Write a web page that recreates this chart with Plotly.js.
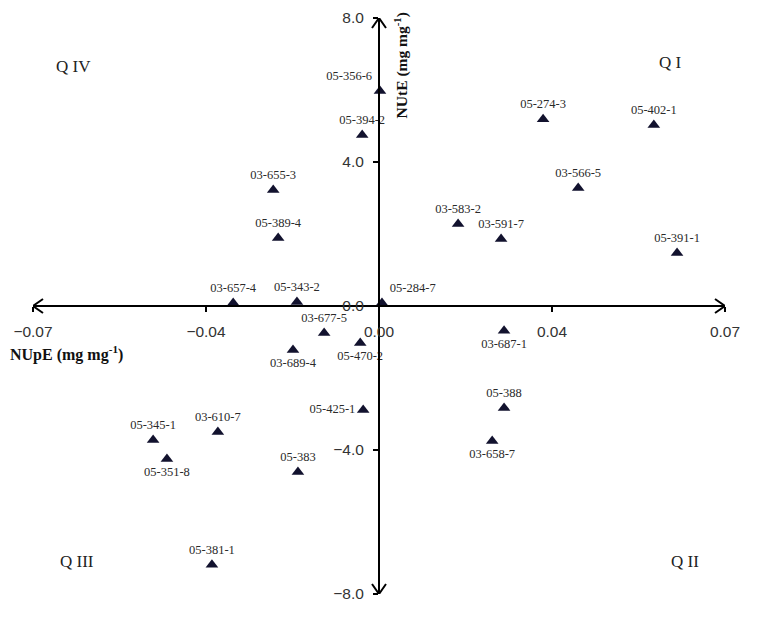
<!DOCTYPE html>
<html>
<head>
<meta charset="utf-8">
<script src="https://cdn.plot.ly/plotly-3.0.1.min.js"></script>
<style>
  html, body { margin: 0; padding: 0; background: #ffffff; }
  #chart { width: 760px; height: 629px; }
</style>
</head>
<body>
<div id="chart"></div>
<script>
// ---- data ----
const genotypes = [
  "05-356-6", "05-394-2", "05-274-3", "05-402-1", "03-566-5",
  "03-583-2", "03-591-7", "05-391-1", "03-655-3", "05-389-4",
  "03-657-4", "05-343-2", "05-284-7", "03-677-5", "03-689-4",
  "05-470-2", "03-687-1", "05-388", "03-658-7", "05-425-1",
  "05-345-1", "03-610-7", "05-351-8", "05-383", "05-381-1"
];
const nupe = [
  0.0002, -0.0034, 0.0332, 0.0556, 0.0403,
  0.0160, 0.0247, 0.0603, -0.0214, -0.0204,
  -0.0295, -0.0166, 0.0006, -0.0111, -0.0174,
  -0.0038, 0.0253, 0.0253, 0.0229, -0.0032,
  -0.0457, -0.0326, -0.0429, -0.0164, -0.0338
];
const nute = [
  5.97, 4.75, 5.19, 5.03, 3.28,
  2.28, 1.86, 1.47, 3.22, 1.89,
  0.08, 0.11, 0.08, -0.75, -1.22,
  -1.03, -0.69, -2.83, -3.75, -2.89,
  -3.72, -3.50, -4.25, -4.61, -7.19
];
const xTickVals = [-0.07, -0.035, 0, 0.035, 0.07];
const yTickVals = [-8, -4, 0, 4, 8];
const quadrants = ["Q I", "Q II", "Q III", "Q IV"];

// ---- styling ----
const labelPlacement = {
  "05-356-6": "top left",
  "05-284-7": "top right",
  "05-425-1": "middle left",
  "03-689-4": "bottom center",
  "05-470-2": "bottom center",
  "03-687-1": "bottom center",
  "03-658-7": "bottom center",
  "05-351-8": "bottom center"
};
const textPositions = genotypes.map(g => labelPlacement[g] || "top center");

const serif = "Liberation Serif, Times New Roman, serif";
const sans = "Liberation Sans, Arial, sans-serif";

const trace = {
  type: "scatter",
  mode: "markers+text",
  x: nupe,
  y: nute,
  text: genotypes,
  textposition: textPositions,
  textfont: { family: serif, size: 12.5, color: "#2a2a2a" },
  marker: { symbol: "triangle-up", size: 11, color: "#12122e" },
  cliponaxis: false,
  hoverinfo: "x+y+text"
};

const xMax = 0.07, yMax = 8;
const arrowLine = { color: "#000000", width: 2 };
function arrowHead(xa, ya, path) {
  return {
    type: "path", xref: "x", yref: "y",
    xsizemode: "pixel", ysizemode: "pixel",
    xanchor: xa, yanchor: ya, path: path,
    line: arrowLine, layer: "above"
  };
}

const quadPos = {
  "Q I":   { x: 0.921, y: 0.922 },
  "Q II":  { x: 0.942, y: 0.056 },
  "Q III": { x: 0.064, y: 0.056 },
  "Q IV":  { x: 0.058, y: 0.915 }
};

const annotations = quadrants.map(q => ({
  text: q, xref: "paper", yref: "paper",
  x: quadPos[q].x, y: quadPos[q].y,
  xanchor: "center", yanchor: "middle",
  showarrow: false,
  font: { family: serif, size: 17, color: "#222222" }
}));
annotations.push({
  text: "<b>NUpE (mg mg<sup>-1</sup>)</b>",
  xref: "paper", yref: "paper", x: 0.048, y: 0.417,
  xanchor: "center", yanchor: "middle",
  showarrow: false,
  font: { family: serif, size: 16, color: "#111111" }
});
annotations.push({
  text: "<b>NUtE (mg mg<sup>-1</sup>)</b>",
  xref: "paper", yref: "paper", x: 0.532, y: 0.918,
  xanchor: "center", yanchor: "middle",
  textangle: -90,
  showarrow: false,
  font: { family: serif, size: 15.5, color: "#111111" }
});

const layout = {
  width: 760, height: 629,
  margin: { l: 33, r: 35, t: 18, b: 35 },
  paper_bgcolor: "#ffffff",
  plot_bgcolor: "#ffffff",
  showlegend: false,
  xaxis: {
    range: [-xMax, xMax],
    anchor: "free", position: 0.5,
    showgrid: false, zeroline: false,
    showline: true, linecolor: "#000000", linewidth: 2,
    ticks: "outside", ticklen: 5, tickwidth: 2, tickcolor: "#000000",
    tickvals: xTickVals, tickformat: ".2f",
    ticklabelstandoff: 6,
    tickfont: { family: sans, size: 15.5, color: "#333333" },
    automargin: false, fixedrange: true
  },
  yaxis: {
    range: [-yMax, yMax],
    anchor: "free", position: 0.5,
    showgrid: false, zeroline: false,
    showline: true, linecolor: "#000000", linewidth: 2,
    ticks: "outside", ticklen: 5, tickwidth: 2, tickcolor: "#000000",
    tickvals: yTickVals, tickformat: ".1f",
    ticklabelstandoff: 6,
    tickfont: { family: sans, size: 15.5, color: "#333333" },
    automargin: false, fixedrange: true
  },
  shapes: [
    arrowHead(xMax, 0, "M -10 7 L 0 0 L -10 -7"),
    arrowHead(-xMax, 0, "M 10 7 L 0 0 L 10 -7"),
    arrowHead(0, yMax, "M -7 -10 L 0 0 L 7 -10"),
    arrowHead(0, -yMax, "M -7 10 L 0 0 L 7 10")
  ],
  annotations: annotations
};

Plotly.newPlot("chart", [trace], layout, { displayModeBar: false, staticPlot: true });
</script>
</body>
</html>
